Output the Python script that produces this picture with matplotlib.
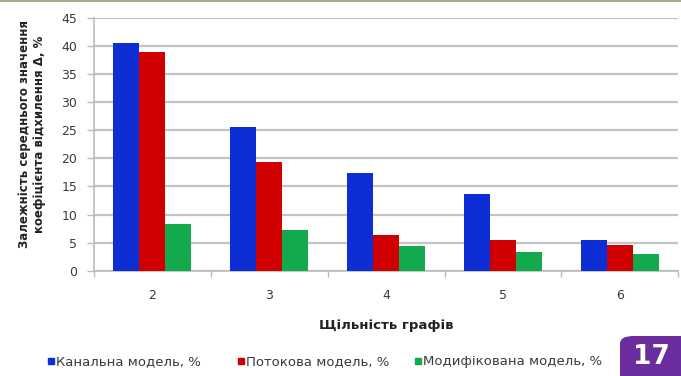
import matplotlib
matplotlib.use("Agg")
import matplotlib.pyplot as plt
import numpy as np
from matplotlib.patches import FancyBboxPatch
from matplotlib.lines import Line2D

plt.rcParams['font.family'] = ['DejaVu Sans']

# Graph density and mean deviation coefficient for each model
densities = ["2", "3", "4", "5", "6"]
channel_model = [40.6, 25.6, 17.4, 13.7, 5.4]
flow_model = [38.9, 19.4, 6.4, 5.5, 4.6]
modified_model = [8.3, 7.2, 4.4, 3.3, 3.0]
series_names = ["Канальна модель, %", "Потокова модель, %", "Модифікована модель, %"]
colors = ["#0c2ed4", "#d10000", "#12aa4c"]

fig = plt.figure(figsize=(6.81, 3.76), dpi=100)
fig.patch.set_facecolor("white")
ax = fig.add_axes([0.138, 0.280, 0.858, 0.6726])

x = np.arange(len(densities))
width = 0.223
for i, (vals, c) in enumerate(zip([channel_model, flow_model, modified_model], colors)):
    ax.bar(x + (i - 1) * width, vals, width, color=c, zorder=3, label=series_names[i])

ax.set_xlim(-0.5, len(densities) - 0.5)
ax.set_ylim(0, 45)
ax.set_yticks(np.arange(0, 46, 5))
ax.yaxis.grid(True, color="#c4c4c4", linewidth=1.6, zorder=0)
ax.set_xticks(x)
ax.set_xticklabels(densities)
ax.set_xticks(np.arange(-0.5, len(densities), 1), minor=True)
ax.tick_params(axis="x", which="major", length=0, pad=13, labelsize=9, labelcolor="#3a3a3a")
ax.tick_params(axis="x", which="minor", length=4, color="#bcbcbc", width=1)
ax.tick_params(axis="y", length=5, color="#bcbcbc", width=1, labelsize=9,
               labelcolor="#3a3a3a", pad=7)
for s in ["top", "right"]:
    ax.spines[s].set_visible(False)
ax.spines["left"].set_color("#bcbcbc")
ax.spines["bottom"].set_color("#bcbcbc")
ax.spines["left"].set_linewidth(1.2)
ax.spines["bottom"].set_linewidth(1.2)

fig.text(386 / 681, 1 - 325 / 376, "Щільність графів", ha="center", va="center",
         fontsize=9.5, fontweight="bold", color="#222222")
fig.text(32 / 681, 1 - 134 / 376,
         "Залежність середнього значення\nкоефіцієнта відхилення Δ, %",
         ha="center", va="center", rotation=90, fontsize=8.5, fontweight="bold",
         color="#222222", linespacing=1.25)

# legend entries, one per series
anchors = [48, 238, 415]
for name, c, ax0 in zip(series_names, colors, anchors):
    h = Line2D([], [], marker="s", linestyle="none", markersize=4.5,
               markerfacecolor=c, markeredgecolor=c)
    fig.legend([h], [name], loc="center left",
               bbox_to_anchor=(ax0 / 681, 1 - 362 / 376), frameon=False,
               fontsize=9.5, handlelength=0.4, handletextpad=0.2,
               borderpad=0, borderaxespad=0, labelcolor="#3a3a3a")

# thin rule along the top edge
fig.add_artist(Line2D([0, 1], [0.997, 0.997], transform=fig.transFigure,
                      color="#a8a890", linewidth=1.5))

# slide number badge
badge = FancyBboxPatch((620 / 681, -0.05), 0.2, 40 / 376 + 0.05,
                       boxstyle="round,pad=0,rounding_size=0.02",
                       transform=fig.transFigure, facecolor="#6b2c9e",
                       edgecolor="none", zorder=10)
fig.add_artist(badge)
fig.text(651 / 681, 1 - 357 / 376, "17", ha="center", va="center", fontsize=19,
         fontweight="bold", color="white", zorder=11)

fig.savefig("out.png", dpi=100, facecolor="white")
